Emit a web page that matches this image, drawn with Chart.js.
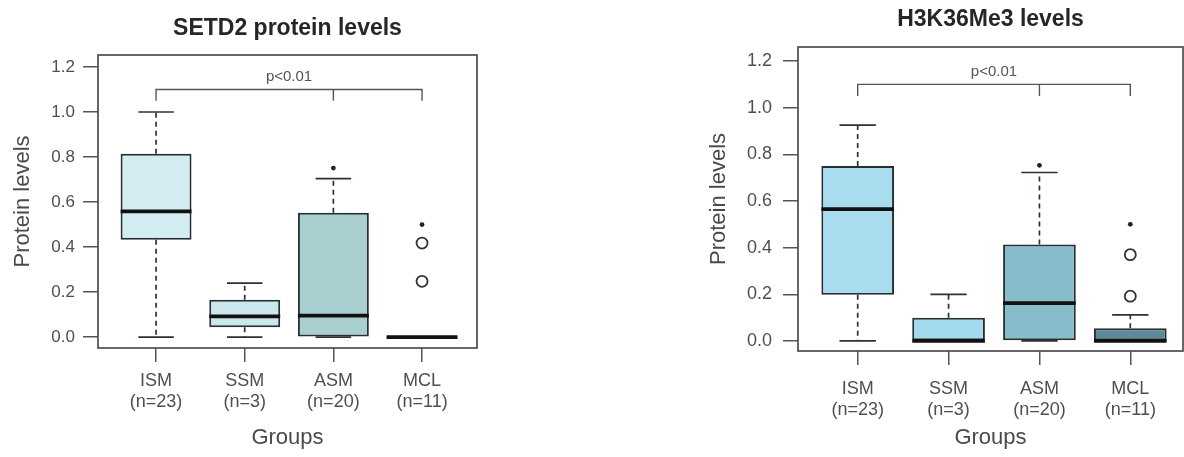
<!DOCTYPE html>
<html>
<head>
<meta charset="utf-8">
<script src="https://cdn.jsdelivr.net/npm/chart.js@4"></script>
<style>
  html, body { margin: 0; padding: 0; background: #fff; overflow: hidden; width: 1184px; height: 457px; }
  canvas { position: absolute; top: 0; }
  #setd2 { left: 0; }
  #h3k { left: 690px; }
</style>
</head>
<body>
<canvas id="setd2" width="575" height="457"></canvas>
<canvas id="h3k" width="601" height="457"></canvas>
<script>
const groups = ['ISM', 'SSM', 'ASM', 'MCL'];
const groupN = ['(n=23)', '(n=3)', '(n=20)', '(n=11)'];
const yTicks = [0, 0.2, 0.4, 0.6, 0.8, 1.0, 1.2];

// SETD2 panel
const setd2Low = [0, 0, 0, 0];
const setd2Q1 = [0.433, 0.044, 0, 0];
const setd2Median = [0.559, 0.092, 0.096, 0];
const setd2Q3 = [0.815, 0.166, 0.553, 0];
const setd2High = [1.0, 0.24, 0.704, 0];
const setd2Outliers = [[], [], [], [0.418, 0.248]];
const setd2Stars = [null, null, 0.751, 0.5];

// H3K36Me3 panel
const h3Low = [0, 0, 0, 0];
const h3Q1 = [0.198, 0, 0, 0];
const h3Median = [0.565, 0, 0.162, 0];
const h3Q3 = [0.75, 0.1, 0.414, 0.055];
const h3High = [0.925, 0.2, 0.722, 0.112];
const h3Outliers = [[], [], [], [0.37, 0.192]];
const h3Stars = [null, null, 0.753, 0.5];

const family = "'Liberation Sans', Arial, Helvetica, sans-serif";

// whiskers, medians, p-value bracket and the frame, drawn with the chart's scales
function boxParts(st) {
  return {
    id: 'boxParts',
    afterDatasetsDraw(chart) {
      const { ctx, chartArea: a, scales: { x, y } } = chart;
      const bars = chart.getDatasetMeta(0).data;
      ctx.save();
      groups.forEach((g, i) => {
        const cx = x.getPixelForValue(i + 1);
        const w = bars[i].width;
        ctx.strokeStyle = '#2b3233';
        ctx.lineWidth = 1.7;
        ctx.setLineDash([5, 4]);
        ctx.beginPath();
        if (st.high[i] > st.q3[i]) {
          ctx.moveTo(cx, y.getPixelForValue(st.q3[i]));
          ctx.lineTo(cx, y.getPixelForValue(st.high[i]));
        }
        if (st.low[i] < st.q1[i]) {
          ctx.moveTo(cx, y.getPixelForValue(st.q1[i]));
          ctx.lineTo(cx, y.getPixelForValue(st.low[i]));
        }
        ctx.stroke();
        ctx.setLineDash([]);
        ctx.beginPath();
        [st.low[i], st.high[i]].forEach(v => {
          const py = y.getPixelForValue(v);
          ctx.moveTo(cx - w / 4, py);
          ctx.lineTo(cx + w / 4, py);
        });
        ctx.stroke();
        ctx.strokeStyle = '#111';
        ctx.lineWidth = 3.8;
        const my = y.getPixelForValue(st.median[i]);
        ctx.beginPath();
        ctx.moveTo(cx - w / 2, my);
        ctx.lineTo(cx + w / 2, my);
        ctx.stroke();
      });

      // bracket ISM vs ASM/MCL
      const by = y.getPixelForValue(1.10);
      const bt = y.getPixelForValue(1.05);
      ctx.strokeStyle = '#555';
      ctx.lineWidth = 1.4;
      ctx.beginPath();
      ctx.moveTo(x.getPixelForValue(1), bt);
      ctx.lineTo(x.getPixelForValue(1), by);
      ctx.lineTo(x.getPixelForValue(4), by);
      ctx.lineTo(x.getPixelForValue(4), bt);
      ctx.moveTo(x.getPixelForValue(3), by);
      ctx.lineTo(x.getPixelForValue(3), bt);
      ctx.stroke();
      ctx.fillStyle = '#555';
      ctx.font = '15px ' + family;
      ctx.textAlign = 'center';
      ctx.textBaseline = 'middle';
      ctx.fillText('p<0.01', x.getPixelForValue(2.5), y.getPixelForValue(1.155));

      ctx.strokeStyle = '#4d4d4d';
      ctx.lineWidth = 1.7;
      ctx.strokeRect(a.left, a.top, a.right - a.left, a.bottom - a.top);
      ctx.restore();
    }
  };
}

function makePanel(id, p) {
  const outPts = [];
  p.outliers.forEach((vals, i) => vals.forEach(v => outPts.push({ x: i + 1, y: v })));
  const starPts = [];
  p.stars.forEach((v, i) => { if (v !== null) starPts.push({ x: i + 1, y: v }); });

  return new Chart(document.getElementById(id), {
    type: 'bar',
    data: {
      datasets: [
        {
          data: groups.map((g, i) => ({ x: i + 1, y: [p.q1[i], p.q3[i]] })),
          backgroundColor: p.colors,
          borderColor: '#263032',
          borderWidth: 2,
          borderSkipped: false,
          categoryPercentage: 1,
          barPercentage: 0.8
        },
        {
          type: 'scatter',
          data: outPts,
          pointRadius: 5.5,
          pointBorderWidth: 1.8,
          pointBorderColor: '#333',
          pointBackgroundColor: '#fff'
        },
        {
          type: 'scatter',
          data: starPts,
          pointRadius: 2.4,
          pointBorderWidth: 0,
          pointBackgroundColor: '#222'
        }
      ]
    },
    options: {
      responsive: false,
      animation: false,
      devicePixelRatio: 1,
      layout: { padding: 0 },
      plugins: {
        legend: { display: false },
        tooltip: { enabled: false },
        title: {
          display: true,
          text: p.title,
          color: '#262626',
          font: { family, size: 23, weight: 'bold', lineHeight: 1.2 },
          padding: { top: p.titleTop, bottom: p.titleBottom }
        }
      },
      scales: {
        x: {
          type: 'linear',
          bounds: 'data',
          offset: false,
          min: p.xMin,
          max: p.xMax,
          afterBuildTicks: s => { s.ticks = groups.map((g, i) => ({ value: i + 1 })); },
          afterFit: s => { s.height = p.xAxisHeight; },
          grid: { offset: false, drawOnChartArea: false, tickLength: 14, color: '#555', lineWidth: 1.5 },
          border: { display: false },
          ticks: {
            autoSkip: false,
            maxRotation: 0,
            padding: p.xLabelPad,
            color: '#4f4f4f',
            font: { family, size: 18, lineHeight: 1.15 },
            callback: v => [groups[v - 1], groupN[v - 1]]
          },
          title: {
            display: true,
            text: 'Groups',
            color: '#4a4a4a',
            font: { family, size: 22, lineHeight: 1.2 },
            padding: { top: 0, bottom: 6 }
          }
        },
        y: {
          min: p.yMin,
          max: p.yMax,
          afterBuildTicks: s => { s.ticks = yTicks.map(v => ({ value: v })); },
          afterFit: s => { s.width = p.yAxisWidth; },
          grid: { drawOnChartArea: false, tickLength: 15, color: '#555', lineWidth: 1.5 },
          border: { display: false },
          ticks: {
            padding: p.yLabelPad,
            color: '#4f4f4f',
            font: { family, size: p.yTickSize },
            callback: v => v.toFixed(1)
          },
          title: {
            display: true,
            text: 'Protein levels',
            color: '#4a4a4a',
            font: { family, size: 22, lineHeight: 1.2 },
            padding: { top: p.yTitlePad, bottom: 0 }
          }
        },
        // empty right-hand axis that keeps the plot box (and the title) where the figure has it
        yRight: {
          position: 'right',
          display: true,
          afterFit: s => { s.width = p.padRight; },
          grid: { display: false },
          border: { display: false },
          ticks: { display: false }
        }
      }
    },
    plugins: [boxParts({ low: p.low, q1: p.q1, median: p.median, q3: p.q3, high: p.high })]
  });
}

makePanel('setd2', {
  title: 'SETD2 protein levels',
  low: setd2Low, q1: setd2Q1, median: setd2Median, q3: setd2Q3, high: setd2High,
  outliers: setd2Outliers, stars: setd2Stars,
  colors: ['#d4edf3', '#cae7eb', '#a8cecf', '#a0c4c6'],
  xMin: 0.345, xMax: 4.62, yMin: -0.048, yMax: 1.253,
  padRight: 98, yAxisWidth: 98, xAxisHeight: 109,
  titleTop: 15, titleBottom: 12.4,
  xLabelPad: 9, yLabelPad: 8, yTitlePad: 10, yTickSize: 17
});

makePanel('h3k', {
  title: 'H3K36Me3 levels',
  low: h3Low, q1: h3Q1, median: h3Median, q3: h3Q3, high: h3High,
  outliers: h3Outliers, stars: h3Stars,
  colors: ['#a9dcef', '#a4daee', '#87bdcb', '#5d8a99'],
  xMin: 0.343, xMax: 4.58, yMin: -0.043, yMax: 1.26,
  padRight: 108, yAxisWidth: 108, xAxisHeight: 106,
  titleTop: 6, titleBottom: 13.4,
  xLabelPad: 14, yLabelPad: 11, yTitlePad: 16, yTickSize: 18
});
</script>
</body>
</html>
